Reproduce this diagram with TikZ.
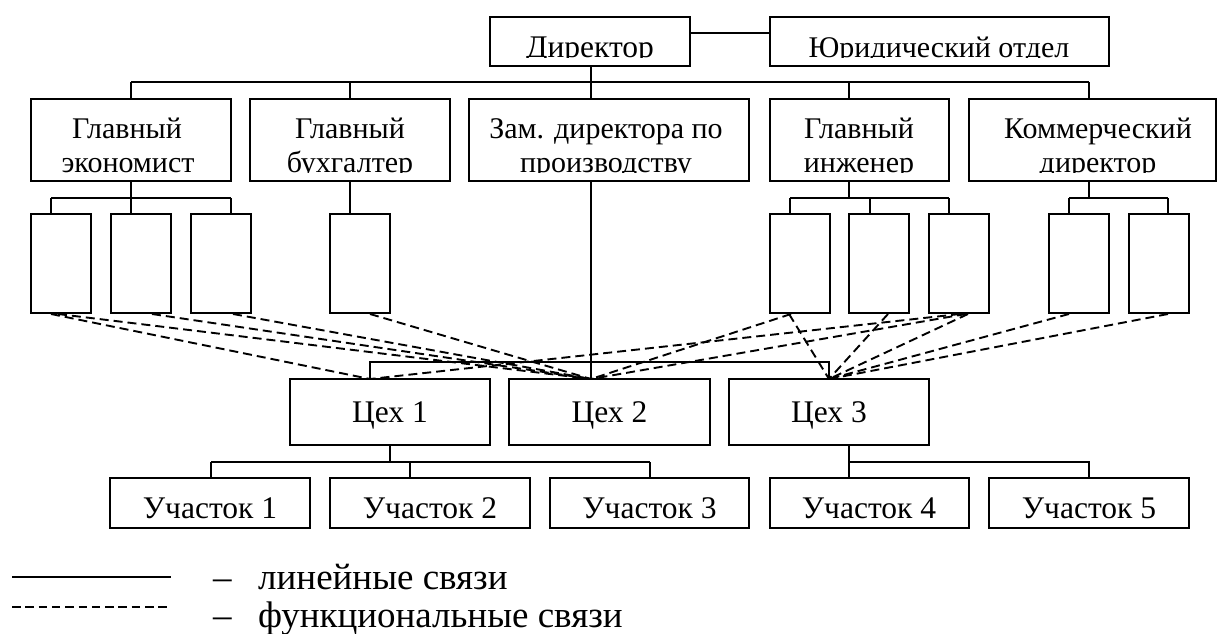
\documentclass[tikz,border=0pt]{standalone}
\usepackage{fontspec}
\setmainfont{Liberation Serif}
\usetikzlibrary{fit,calc}
\begin{document}
\begin{tikzpicture}[x=1pt,y=-1pt,
  box/.style={draw,line width=2pt,inner sep=0pt},
  lnk/.style={line width=2pt},
  fn/.style={line width=1.9pt,dash pattern=on 9pt off 5pt},
  txt/.style={inner sep=0pt,anchor=base,font=\fontsize{30}{35}\selectfont},
  big/.style={txt,font=\fontsize{31.5}{36}\selectfont},
  leg/.style={inner sep=0pt,anchor=base west,font=\fontsize{37}{42}\selectfont}]
\useasboundingbox (0,0) rectangle (1218,633);
% boxes
\node[box,fit={(490,17)(690,66)}] (dir) {};
\node[box,fit={(770,17)(1109,66)}] (legal) {};
\node[box,fit={(31,99)(231,181)}] (econ) {};
\node[box,fit={(250,99)(450,181)}] (buh) {};
\node[box,fit={(469,99)(749,181)}] (zam) {};
\node[box,fit={(770,99)(949,181)}] (ing) {};
\node[box,fit={(969,99)(1216,181)}] (kom) {};
\node[box,fit={(31,214)(91,313)}] (e1) {};
\node[box,fit={(111,214)(171,313)}] (e2) {};
\node[box,fit={(191,214)(251,313)}] (e3) {};
\node[box,fit={(330,214)(390,313)}] (b1) {};
\node[box,fit={(770,214)(830,313)}] (i1) {};
\node[box,fit={(849,214)(909,313)}] (i2) {};
\node[box,fit={(929,214)(989,313)}] (i3) {};
\node[box,fit={(1049,214)(1109,313)}] (k1) {};
\node[box,fit={(1129,214)(1189,313)}] (k2) {};
\node[box,fit={(290,379)(490,445)}] (c1) {};
\node[box,fit={(509,379)(710,445)}] (c2) {};
\node[box,fit={(729,379)(929,445)}] (c3) {};
\node[box,fit={(110,478)(310,528)}] (u1) {};
\node[box,fit={(330,478)(530,528)}] (u2) {};
\node[box,fit={(550,478)(749,528)}] (u3) {};
\node[box,fit={(770,478)(969,528)}] (u4) {};
\node[box,fit={(989,478)(1189,528)}] (u5) {};
% texts (clipped where the picture clips them)
\begin{scope}\clip (dir.north west) rectangle (dir.east |- 0,57.5);
\node[big] (tdir) at (590,57) {Директор};\end{scope}
\begin{scope}\clip (legal.north west) rectangle (legal.east |- 0,57.5);
\node[txt] (tlegal) at (939,57) {Юридический отдел};\end{scope}
\node[txt] (tecon1) at (127,138) {Главный};
\begin{scope}\clip (econ.north west) rectangle (econ.east |- 0,172.5);
\node[txt] (tecon2) at (128,172) {экономист};\end{scope}
\node[txt] (tbuh1) at (350,138) {Главный};
\begin{scope}\clip (buh.north west) rectangle (buh.east |- 0,172.5);
\node[txt] (tbuh2) at (350,172) {бухгалтер};\end{scope}
\node[txt] (tzam1) at (606,138) {Зам. директора по};
\begin{scope}\clip (zam.north west) rectangle (zam.east |- 0,172.5);
\node[txt] (tzam2) at (606,172) {производству};\end{scope}
\node[txt] (ting1) at (859,138) {Главный};
\begin{scope}\clip (ing.north west) rectangle (ing.east |- 0,172.5);
\node[txt] (ting2) at (859,172) {инженер};\end{scope}
\node[txt] (tkom1) at (1098,138) {Коммерческий};
\begin{scope}\clip (kom.north west) rectangle (kom.east |- 0,172.5);
\node[txt] (tkom2) at (1098,172) {директор};\end{scope}
\node[big] (tc1) at (390,422) {Цех 1};
\node[big] (tc2) at (609.5,422) {Цех 2};
\node[big] (tc3) at (829,422) {Цех 3};
\node[big] (tu1) at (210,518) {Участок 1};
\node[big] (tu2) at (430,518) {Участок 2};
\node[big] (tu3) at (649.5,518) {Участок 3};
\node[big] (tu4) at (869,518) {Участок 4};
\node[big] (tu5) at (1089,518) {Участок 5};
% solid links
\draw[lnk] (dir.east |- 0,33) -- (legal.west |- 0,33);
\draw[lnk] (591,0 |- dir.south) -- (591,0 |- zam.north);
\draw[lnk] (591,0 |- zam.south) -- (591,0 |- c2.north);
\coordinate (busL) at (131,82);
\coordinate (busR) at (1089,82);
\draw[lnk] (busL) -- (busR);
\draw[lnk] (busL) -- (busL |- econ.north);
\draw[lnk] (350,82) -- (350,0 |- buh.north);
\draw[lnk] (849,82) -- (849,0 |- ing.north);
\draw[lnk] (busR) -- (busR |- kom.north);
% economist subordinates
\draw[lnk] (131,0 |- econ.south) -- (131,198);
\draw[lnk] (51,198) -- (231,198);
\draw[lnk] (51,198) -- (51,0 |- e1.north);
\draw[lnk] (131,198) -- (131,0 |- e2.north);
\draw[lnk] (231,198) -- (231,0 |- e3.north);
\draw[lnk] (350,0 |- buh.south) -- (350,0 |- b1.north);
% engineer subordinates
\draw[lnk] (849,0 |- ing.south) -- (849,198);
\draw[lnk] (790,198) -- (949,198);
\draw[lnk] (790,198) -- (790,0 |- i1.north);
\draw[lnk] (870,198) -- (870,0 |- i2.north);
\draw[lnk] (949,198) -- (949,0 |- i3.north);
% commercial subordinates
\draw[lnk] (1089,0 |- kom.south) -- (1089,198);
\draw[lnk] (1069,198) -- (1168,198);
\draw[lnk] (1069,198) -- (1069,0 |- k1.north);
\draw[lnk] (1168,198) -- (1168,0 |- k2.north);
% workshops
\coordinate (c1t) at (370,379);
\coordinate (c2t) at (591,379);
\coordinate (c3t) at (829,379);
\draw[lnk] (c1t) -- (370,362) -- (829,362) -- (c3t);
\draw[lnk] (390,0 |- c1.south) -- (390,462);
\draw[lnk] (211,462) -- (650,462);
\draw[lnk] (211,462) -- (211,0 |- u1.north);
\draw[lnk] (410,462) -- (410,0 |- u2.north);
\draw[lnk] (650,462) -- (650,0 |- u3.north);
\draw[lnk] (849,0 |- c3.south) -- (849,0 |- u4.north);
\draw[lnk] (849,462) -- (1089,462) -- (1089,0 |- u5.north);
% functional links
\draw[fn] (51,0 |- e1.south) -- (c1t);
\draw[fn] (58,0 |- e1.south) -- (c2t);
\draw[fn] (152,0 |- e2.south) -- (c2t);
\draw[fn] (233,0 |- e3.south) -- (c2t);
\draw[fn] (370,0 |- b1.south) -- (c2t);
\draw[fn] (791,0 |- i1.south) -- (c2t);
\draw[fn] (789,0 |- i1.south) -- (c3t);
\draw[fn] (888,0 |- i2.south) -- (c3t);
\draw[fn] (968,0 |- i3.south) -- (c3t);
\draw[fn] (966,0 |- i3.south) -- (c2t);
\draw[fn] (960,0 |- i3.south) -- (c1t);
\draw[fn] (1069,0 |- k1.south) -- (c3t);
\draw[fn] (1168,0 |- k2.south) -- (c3t);
% legend
\coordinate (l1a) at (12,577); \coordinate (l1b) at (171,577);
\coordinate (l2a) at (12,607); \coordinate (l2b) at (171,607);
\draw[line width=1.4pt] (l1a) -- (l1b);
\draw[line width=1.4pt,dash pattern=on 8.5pt off 4.8pt] (l2a) -- (l2b);
\node[leg] (d1) at (213,589) {–};
\node[leg] (t1) at (258,589) {линейные связи};
\node[leg] (d2) at (213,627) {–};
\node[leg] (t2) at (258,627) {функциональные связи};
\end{tikzpicture}
\end{document}
